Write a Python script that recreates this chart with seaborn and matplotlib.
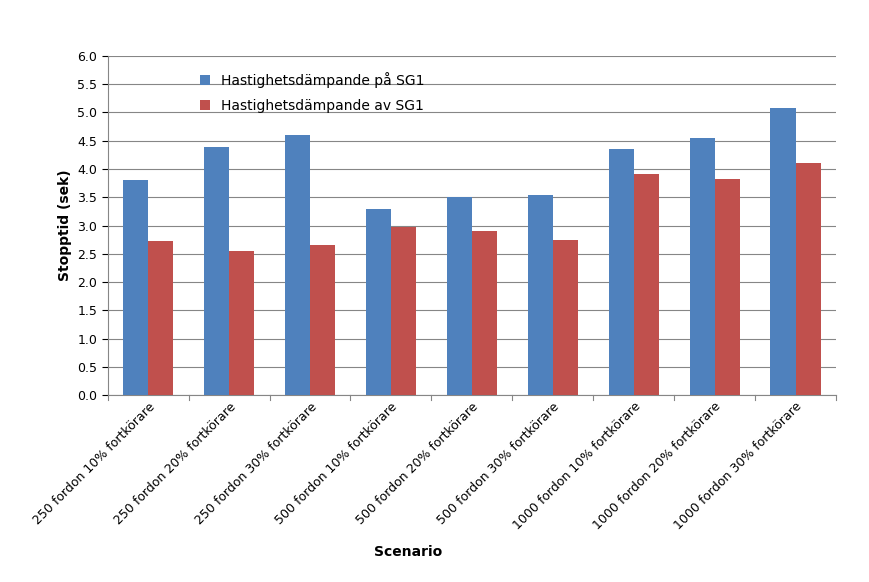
import matplotlib
matplotlib.use("Agg")
import matplotlib.pyplot as plt
import seaborn as sns
import pandas as pd

categories = ["250 fordon 10% fortkörare", "250 fordon 20% fortkörare", "250 fordon 30% fortkörare",
              "500 fordon 10% fortkörare", "500 fordon 20% fortkörare", "500 fordon 30% fortkörare",
              "1000 fordon 10% fortkörare", "1000 fordon 20% fortkörare", "1000 fordon 30% fortkörare"]
series_names = ["Hastighetsdämpande på SG1", "Hastighetsdämpande av SG1"]
pa_values = [3.81, 4.39, 4.60, 3.29, 3.50, 3.54, 4.35, 4.55, 5.08]
av_values = [2.73, 2.55, 2.66, 2.97, 2.90, 2.75, 3.91, 3.83, 4.11]
yticks = [i / 2 for i in range(13)]

df = pd.DataFrame({
    "Scenario": categories * 2,
    "Stopptid": pa_values + av_values,
    "Serie": [series_names[0]] * 9 + [series_names[1]] * 9,
})

fig = plt.figure(figsize=(8.69, 5.82), dpi=100)
ax = fig.add_axes([0.124, 0.321, 0.838, 0.583])
sns.barplot(data=df, x="Scenario", y="Stopptid", hue="Serie", order=categories,
            hue_order=series_names, palette=["#4F81BD", "#C0504D"], width=0.62,
            saturation=1, ax=ax, zorder=3)
ax.set_ylim(0, 6)
ax.set_yticks(yticks)
ax.set_yticklabels([f"{v:.1f}" for v in yticks], fontsize=9)
ax.set_xlim(-0.5, 8.5)
ax.grid(axis="y", color="#868686", linewidth=0.8, zorder=0)
ax.set_axisbelow(True)
ax.tick_params(axis="x", length=0)
ax.tick_params(axis="y", length=4, direction="out")
ax.set_xticks(range(9))
ax.set_xticklabels(categories, rotation=45, ha="right", rotation_mode="anchor", fontsize=9)
for x in [i + 0.5 for i in range(-1, 9)]:
    ax.plot([x, x], [0, -0.08], color="#868686", lw=0.8, clip_on=False)
for s in ["top", "right"]:
    ax.spines[s].set_visible(False)
for s in ["left", "bottom"]:
    ax.spines[s].set_color("#868686")
ax.set_ylabel("Stopptid (sek)", fontsize=10, fontweight="bold")
ax.set_xlabel("")
fig.text(0.47, 0.045, "Scenario", ha="center", fontsize=10, fontweight="bold")
ax.legend(loc="upper left", bbox_to_anchor=(0.11, 0.99), frameon=False, fontsize=10,
          handlelength=0.7, handleheight=0.7, labelspacing=0.8)
fig.savefig("out.png", dpi=100)
